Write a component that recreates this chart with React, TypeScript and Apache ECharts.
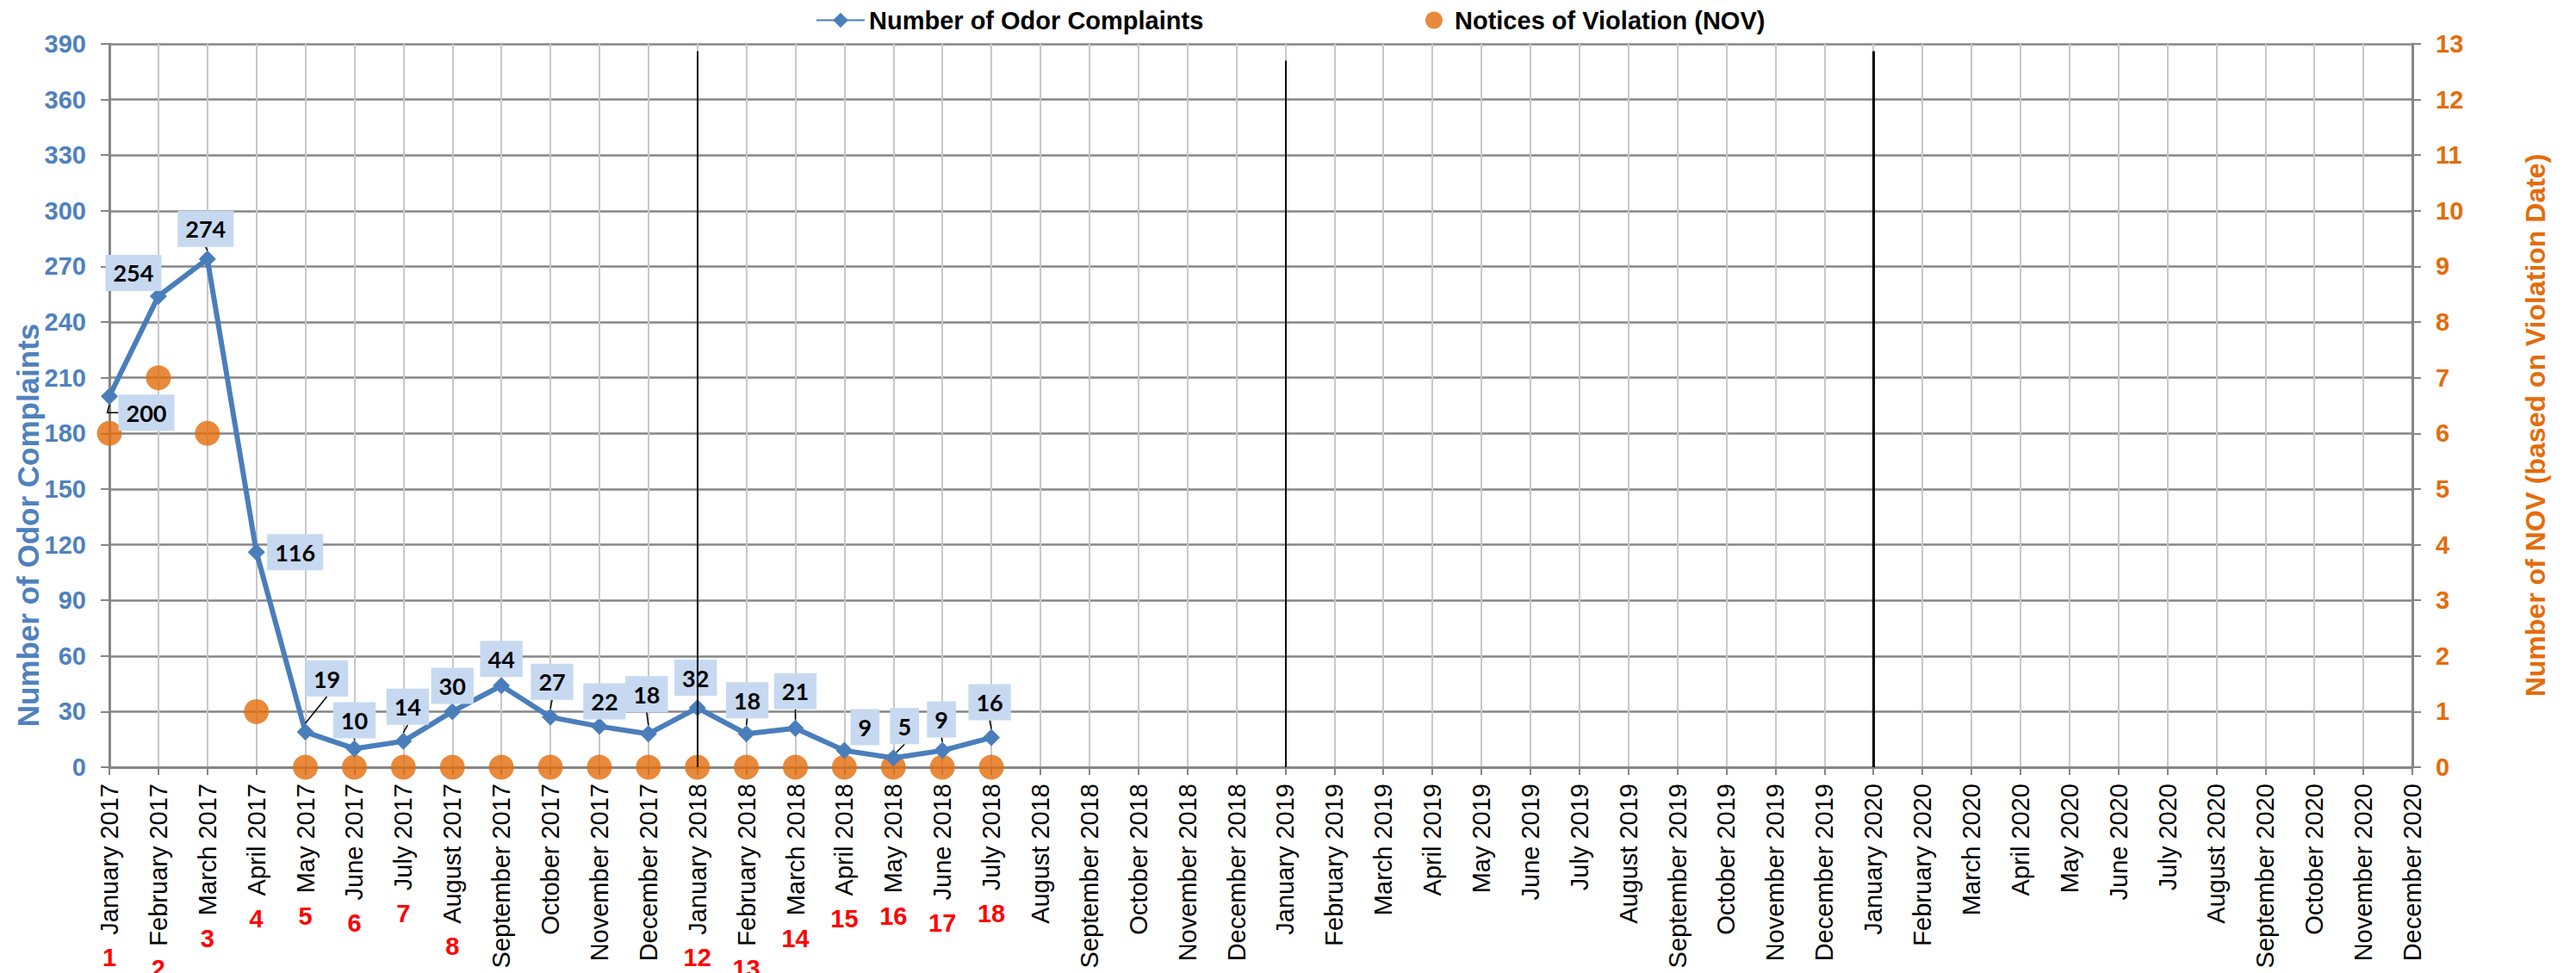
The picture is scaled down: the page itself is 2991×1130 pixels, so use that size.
import React, { useEffect, useRef } from 'react';
import * as echarts from 'echarts';

// ---------- data ----------
const monthNames = ['January', 'February', 'March', 'April', 'May', 'June', 'July', 'August', 'September', 'October', 'November', 'December'];
const years = ['2017', '2018', '2019', '2020'];
const months: string[] = years.flatMap((y) => monthNames.map((m) => `${m} ${y}`));

// Number of Odor Complaints, January 2017 .. July 2018
const complaints = [200, 254, 274, 116, 19, 10, 14, 30, 44, 27, 22, 18, 32, 18, 21, 9, 5, 9, 16];
// Notices of Violation, January 2017 .. July 2018
const nov = [6, 7, 6, 1, 0, 0, 0, 0, 0, 0, 0, 0, 0, 0, 0, 0, 0, 0, 0];
// red sequence numbers shown under the month labels
const monthTags = ['1', '2', '3', '4', '5', '6', '7', '8', '9', '', '10', '11', '12', '13', '14', '15', '16', '17', '18'];
// year separators
const yearStarts = ['January 2018', 'January 2019', 'January 2020'];
const yearLineTops = [386, 381, 386];
const yearLineWidths = [2, 2, 3];

const leftAxis = { min: 0, max: 390, interval: 30 };
const rightAxis = { min: 0, max: 13, interval: 1 };

// ---------- layout (label placement, not data) ----------
const labelOffsets: [number, number][] = [
  [43, 19], [-29, -27], [-2, -35], [45, 0], [25, -62], [0, -33], [5, -40], [0, -30], [0, -31], [2, -41],
  [6, -29], [-2, -46], [-2, -35], [1, -39], [0, -43], [24, -27], [13, -37], [-1, -36], [-2, -41],
];
const leaderShown = [true, false, true, false, true, true, true, false, false, true, false, true, false, true, true, false, true, true, true];

const FONT = 'Liberation Sans';
const X_FONT_SIZE = 29;
const X_MARGIN = 19;
const TAG_GAP = 12;
const BLUE = '#4A7EBB';
const BLUE_TEXT = '#4F81BD';
const ORANGE = '#E46C0A';

export default function App() {
  const ref = useRef<HTMLDivElement>(null);

  useEffect(() => {
    document.body.style.margin = '0';
    document.body.style.overflow = 'hidden';
    if (!ref.current) return;
    const chart = echarts.init(ref.current, null, { renderer: 'svg' });

    const lineData = months.map((_, i) => {
      if (i >= complaints.length) return null;
      return {
        value: complaints[i],
        labelLine: { show: leaderShown[i], length2: i === 0 ? 13 : 0 },
      };
    });
    const novData = months.map((_, i) => (i < nov.length ? nov[i] : null));

    const option: any = {
      animation: false,
      backgroundColor: '#ffffff',
      textStyle: { fontFamily: FONT },
      grid: { left: 127, right: 190, top: 51, bottom: 239, containLabel: false },
      legend: [
        {
          data: ['Number of Odor Complaints'],
          left: 947,
          top: 9,
          padding: 0,
          itemWidth: 56,
          itemHeight: 22,
          textStyle: { fontSize: 29, fontWeight: 'bold', fontFamily: FONT, color: '#000' },
        },
        {
          data: [{ name: 'Notices of Violation (NOV)', icon: 'circle' }],
          left: 1655,
          top: 9,
          padding: 0,
          itemWidth: 38,
          itemHeight: 20,
          textStyle: { fontSize: 29, fontWeight: 'bold', fontFamily: FONT, color: '#000' },
        },
      ],
      xAxis: {
        type: 'category',
        data: months,
        boundaryGap: false,
        axisLine: { show: true, lineStyle: { color: '#868686', width: 3 } },
        axisTick: { show: true, interval: 0, length: 9, lineStyle: { color: '#868686', width: 2 } },
        axisLabel: { interval: 0, rotate: 90, margin: X_MARGIN, color: '#000', fontSize: X_FONT_SIZE, fontFamily: FONT },
        splitLine: { show: true, interval: 0, lineStyle: { color: '#C8C8C8', width: 2 } },
      },
      yAxis: [
        {
          type: 'value',
          position: 'left',
          ...leftAxis,
          axisLine: { show: true, lineStyle: { color: '#868686', width: 3 } },
          axisTick: { show: true, length: 10, lineStyle: { color: '#868686', width: 2 } },
          axisLabel: { color: BLUE_TEXT, fontSize: 29, fontWeight: 'bold', fontFamily: FONT, margin: 27 },
          splitLine: { show: true, lineStyle: { color: '#868686', width: 2.5 } },
        },
        {
          type: 'value',
          position: 'right',
          ...rightAxis,
          axisLine: { show: true, lineStyle: { color: '#868686', width: 3 } },
          axisTick: { show: true, length: 10, lineStyle: { color: '#868686', width: 2 } },
          axisLabel: { color: ORANGE, fontSize: 29, fontWeight: 'bold', fontFamily: FONT, margin: 27 },
          splitLine: { show: false },
        },
      ],
      series: [
        {
          name: 'Number of Odor Complaints',
          type: 'line',
          yAxisIndex: 0,
          z: 3,
          data: lineData,
          connectNulls: false,
          symbol: 'diamond',
          symbolSize: 20,
          lineStyle: { color: BLUE, width: 6 },
          itemStyle: { color: BLUE },
          label: {
            show: true,
            position: 'top',
            color: '#000',
            fontFamily: 'Lato',
            fontWeight: 'bold',
            fontSize: 27,
            lineHeight: 27,
            backgroundColor: '#C6D9F1',
            padding: [8, 9, 7, 9],
          },
          labelLine: { show: true, lineStyle: { color: '#000', width: 1.5 } },
          labelLayout: (params: any) => {
            const off = labelOffsets[params.dataIndex] || [0, -30];
            const r = params.rect;
            return {
              x: r.x + r.width / 2 + off[0],
              y: r.y + r.height / 2 + off[1],
              align: 'center',
              verticalAlign: 'middle',
            };
          },
          markLine: {
            silent: true,
            symbol: ['none', 'none'],
            label: { show: false },
            data: yearStarts.map((m, k) => [
              { coord: [months.indexOf(m), yearLineTops[k]], lineStyle: { color: '#000', width: yearLineWidths[k], type: 'solid' } },
              { coord: [months.indexOf(m), 0] },
            ]),
          },
        },
        {
          name: 'Notices of Violation (NOV)',
          type: 'scatter',
          yAxisIndex: 1,
          z: 2,
          data: novData,
          symbol: 'circle',
          symbolSize: 29,
          itemStyle: { color: ORANGE },
        },
      ],
    };

    chart.setOption(option);

    const canvas = document.createElement('canvas');
    const ctx = canvas.getContext('2d') as CanvasRenderingContext2D;
    ctx.font = `${X_FONT_SIZE}px "${FONT}"`;
    const axisY = chart.convertToPixel({ yAxisIndex: 0 }, 0) as number;

    const tagEls: any[] = [];
    monthTags.forEach((t, i) => {
      if (!t) return;
      const x = chart.convertToPixel({ xAxisIndex: 0 }, i) as number;
      const w = ctx.measureText(months[i]).width;
      tagEls.push({
        type: 'text',
        x,
        y: axisY + X_MARGIN + w + TAG_GAP,
        silent: true,
        style: {
          text: t,
          fill: '#FF0000',
          fontSize: 29,
          fontWeight: 'bold',
          fontFamily: FONT,
          textAlign: 'center',
          textVerticalAlign: 'top',
          align: 'center',
          verticalAlign: 'top',
        },
      });
    });

    const titles = [
      {
        type: 'text',
        x: 32,
        y: 610,
        rotation: Math.PI / 2,
        silent: true,
        style: {
          text: 'Number of Odor Complaints',
          fill: BLUE_TEXT,
          fontSize: 35,
          fontWeight: 'bold',
          fontFamily: FONT,
          textAlign: 'center',
          textVerticalAlign: 'middle',
          align: 'center',
          verticalAlign: 'middle',
        },
      },
      {
        type: 'text',
        x: 2944,
        y: 494,
        rotation: Math.PI / 2,
        silent: true,
        style: {
          text: 'Number of NOV (based on Violation Date)',
          fill: ORANGE,
          fontSize: 32,
          fontWeight: 'bold',
          fontFamily: FONT,
          textAlign: 'center',
          textVerticalAlign: 'middle',
          align: 'center',
          verticalAlign: 'middle',
        },
      },
    ];

    chart.setOption({ graphic: [...titles, ...tagEls] });

    return () => {
      chart.dispose();
    };
  }, []);

  return <div ref={ref} style={{ width: 2991, height: 1130 }} />;
}
